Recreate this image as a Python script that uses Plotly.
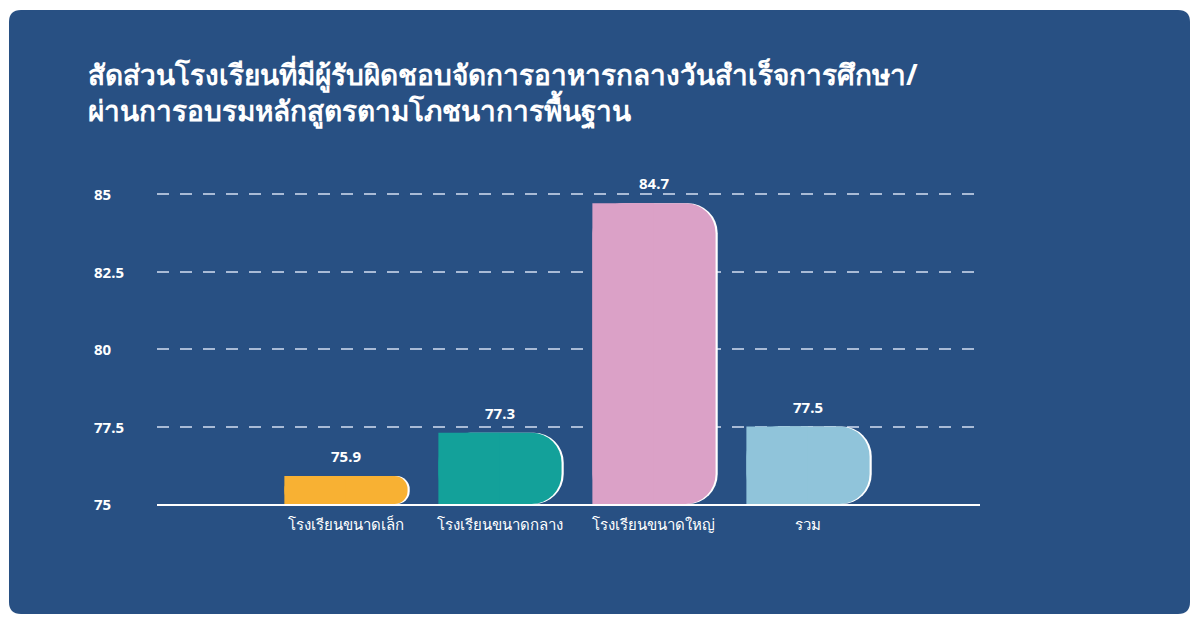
import plotly.graph_objects as go

# data
categories = ["โรงเรียนขนาดเล็ก", "โรงเรียนขนาดกลาง", "โรงเรียนขนาดใหญ่", "รวม"]
values = [75.9, 77.3, 84.7, 77.5]
bar_colors = ["#F8B133", "#13A19A", "#DBA1C7", "#90C4DA"]
y_ticks = [75, 77.5, 80, 82.5, 85]
y_tick_labels = ["75", "77.5", "80", "82.5", "85"]
title_lines = [
    "สัดส่วนโรงเรียนที่มีผู้รับผิดชอบจัดการอาหารกลางวันสำเร็จการศึกษา/",
    "ผ่านการอบรมหลักสูตรตามโภชนาการพื้นฐาน",
]

BG = "#285083"
FONT = "Noto Sans, sans-serif"
OFF = 8  # page body margin
W, H = 1200 - OFF, 624 - OFF
L, T = 157 - OFF, 163 - OFF
R, B = W - (980 - OFF), H - (504 - OFF)
pw, ph = W - L - R, H - T - B

x = list(range(len(categories)))
base = 75

fig = go.Figure()
# white edge behind the rounded corner
fig.add_trace(go.Bar(
    x=x, y=[v - base for v in values], base=base,
    width=0.8, offset=-0.4 + 0.014,
    marker=dict(color="white", cornerradius=30, line_width=0),
    hoverinfo="skip",
))
# rounded bar (top-right corner)
fig.add_trace(go.Bar(
    x=x, y=[v - base for v in values], base=base,
    width=0.8, offset=-0.4,
    marker=dict(color=bar_colors, cornerradius=30, line_width=0),
))
# square left half, keeps top-left corner sharp
fig.add_trace(go.Bar(
    x=x, y=[v - base for v in values], base=base,
    width=0.4, offset=-0.4,
    marker=dict(color=bar_colors, line_width=0),
    hoverinfo="skip",
))


def px2paper(px, py):
    # page pixel -> paper coords
    return (px - OFF - L) / pw, (H - B - (py - OFF)) / ph


def P(a, b):
    u, v = px2paper(a, b)
    return f"{u:.5f},{v:.5f}"


# rounded background panel
x0, y0, x1, y1, r = 9, 10, 1190, 614, 12
path = (
    f"M {P(x0 + r, y0)} L {P(x1 - r, y0)} Q {P(x1, y0)} {P(x1, y0 + r)} "
    f"L {P(x1, y1 - r)} Q {P(x1, y1)} {P(x1 - r, y1)} "
    f"L {P(x0 + r, y1)} Q {P(x0, y1)} {P(x0, y1 - r)} "
    f"L {P(x0, y0 + r)} Q {P(x0, y0)} {P(x0 + r, y0)} Z"
)
fig.add_shape(type="path", path=path, xref="paper", yref="paper",
              fillcolor=BG, line_width=0, layer="below")

# value labels
for i, v in zip(x, values):
    fig.add_annotation(
        x=i, y=v, text=f"{v}", showarrow=False,
        xanchor="center", yanchor="bottom", yshift=8,
        font=dict(family=FONT, size=15, color="white", weight="bold"),
    )

# y tick labels, left aligned
for tv, tl in zip(y_ticks, y_tick_labels):
    fig.add_annotation(
        x=px2paper(92, 0)[0], xref="paper", y=tv, yref="y",
        text=tl, showarrow=False, xanchor="left", yanchor="middle",
        font=dict(family=FONT, size=15, color="white", weight="bold"),
    )

# title
fig.add_annotation(
    x=px2paper(86, 0)[0], xref="paper", y=px2paper(0, 93)[1], yref="paper",
    text="<br>".join(title_lines), showarrow=False, align="left",
    xanchor="left", yanchor="middle",
    font=dict(family=FONT, size=28, color="white", weight="bold"),
)

fig.update_layout(
    width=W, height=H,
    margin=dict(l=L, r=R, t=T, b=B, pad=0),
    paper_bgcolor="white", plot_bgcolor="rgba(0,0,0,0)",
    barmode="overlay", showlegend=False,
    font=dict(family=FONT, color="white"),
)
fig.update_xaxes(
    range=[-1.227, 4.117], tickvals=x, ticktext=categories,
    tickfont=dict(family=FONT, size=15, color="white"),
    showgrid=False, zeroline=False, showline=True, linecolor="white",
    linewidth=2, ticks="", ticklabelstandoff=6,
)
fig.update_yaxes(
    range=[75, 86], tickvals=y_ticks[1:], showticklabels=False,
    showgrid=True, gridcolor="#A9BBD6", griddash="12px,11px", gridwidth=1.5,
    zeroline=False, showline=False, ticks="",
)

fig.write_html("out.html")
